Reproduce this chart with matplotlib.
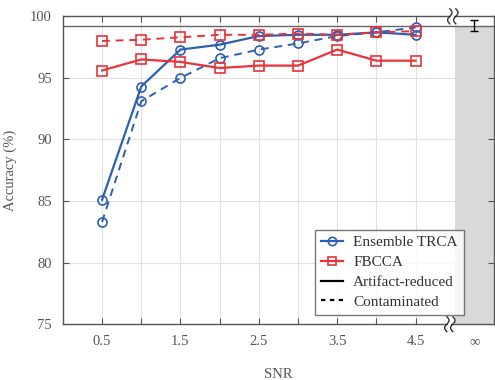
import numpy as np
import matplotlib
matplotlib.use("Agg")
import matplotlib.pyplot as plt
from matplotlib.lines import Line2D

plt.rcParams['font.family'] = ['Liberation Serif', 'DejaVu Serif']

snr = [0.5, 1.0, 1.5, 2.0, 2.5, 3.0, 3.5, 4.0, 4.5]
trca_reduced = [85.1, 94.3, 97.3, 97.7, 98.4, 98.5, 98.5, 98.7, 98.5]
trca_contam = [83.3, 93.1, 95.0, 96.6, 97.3, 97.8, 98.4, 98.7, 99.1]
fbcca_reduced = [95.6, 96.5, 96.3, 95.8, 96.0, 96.0, 97.3, 96.4, 96.4]
fbcca_contam = [98.0, 98.1, 98.3, 98.5, 98.5, 98.6, 98.5, 98.7, 98.8]
inf_mean = 99.25
inf_err = 0.45
xtick_labels = ['0.5', '', '1.5', '', '2.5', '', '3.5', '', '4.5']
ytick_vals = [75, 80, 85, 90, 95, 100]

blue = '#2e5fb0'
red = '#e8333a'
tc = '#555555'
sc = '#555555'

fig = plt.figure(figsize=(4.95, 3.8), dpi=100)
ax = fig.add_axes([0.127, 0.147, 0.871, 0.81])
ax.set_xlim(0, 5.5)
ax.set_ylim(75, 100)

# grid
for gx in np.arange(0.5, 4.51, 0.5):
    ax.axvline(gx, color='#e0e0e0', lw=0.8, zorder=0)
for gy in [80, 85, 90, 95]:
    ax.axhline(gy, color='#e0e0e0', lw=0.8, zorder=0)

# gray infinite region
ax.axvspan(5.0, 5.5, ymin=0, ymax=(inf_mean - 75) / 25, color='#d9d9d9', zorder=1, lw=0)
ax.axhline(inf_mean, color='#666666', lw=1.0, zorder=2)
ax.errorbar([5.25], [inf_mean], yerr=[inf_err], color='black', capsize=3, lw=1, capthick=1, zorder=3)

dash = (0, (4, 3))
mk = dict(markersize=6.5, markerfacecolor='none', markeredgewidth=1.2)
ax.plot(snr, trca_contam, color=blue, ls=dash, lw=1.4, marker='o', markeredgecolor=blue, zorder=4, **mk)
ax.plot(snr, trca_reduced, color=blue, ls='-', lw=1.6, marker='o', markeredgecolor=blue, zorder=4, **mk)
ax.plot(snr, fbcca_contam, color=red, ls=dash, lw=1.4, marker='s', markeredgecolor=red, zorder=5, **mk)
ax.plot(snr, fbcca_reduced, color=red, ls='-', lw=1.6, marker='s', markeredgecolor=red, zorder=5, **mk)

ax.set_xticks(np.arange(0.5, 4.51, 0.5))
ax.set_xticklabels(xtick_labels)
ax.set_yticks(ytick_vals)
ax.set_yticklabels([str(v) for v in ytick_vals])
ax.tick_params(direction='in', top=True, right=True, length=4, width=0.8, colors=sc,
               labelcolor=tc, labelsize=10.5, pad=8)
ax.text(5.25, -0.035, '∞', transform=ax.get_xaxis_transform(), ha='center', va='top',
        fontsize=10.5, color=tc)
for s in ax.spines.values():
    s.set_color(sc)
    s.set_linewidth(1.0)

ax.set_xlabel('SNR', fontsize=10.5, color=tc, labelpad=14)
ax.set_ylabel('Accuracy (%)', fontsize=10.5, color=tc, labelpad=9)

# break marks
W, H = 431.0, 307.8
def squiggle(xc_frac, yc_frac):
    t = np.linspace(-1, 1, 40)
    for off in (-3.0, 3.0):
        xs = xc_frac + (off + 2.2 * np.sin(np.pi * t)) / W
        ys = yc_frac + (7.5 * t) / H
        ax.plot(xs, ys, transform=ax.transAxes, color='#333333', lw=1.0, clip_on=False, zorder=10)
    ax.fill_between([xc_frac - 1.5 / W, xc_frac + 1.5 / W], yc_frac - 3 / H, yc_frac + 3 / H,
                    transform=ax.transAxes, color='white', clip_on=False, zorder=9, lw=0)
squiggle(5.0 / 5.5 - 2 / W, 1.0)
squiggle(5.0 / 5.5 - 5 / W, 0.0)

handles = [
    Line2D([], [], color=blue, marker='o', markerfacecolor='none', markeredgewidth=1.2, markersize=6, lw=1.6),
    Line2D([], [], color=red, marker='s', markerfacecolor='none', markeredgewidth=1.2, markersize=6, lw=1.6),
    Line2D([], [], color='black', lw=1.6),
    Line2D([], [], color='black', lw=1.6, ls=(0, (2, 2))),
]
labels = ['Ensemble TRCA', 'FBCCA', 'Artifact-reduced', 'Contaminated']
leg = ax.legend(handles, labels, loc='lower left', bbox_to_anchor=(0.585, 0.03), fontsize=11,
                frameon=True, fancybox=False, edgecolor='#555555', handlelength=1.4,
                borderpad=0.4, labelspacing=0.4, handletextpad=0.7, borderaxespad=0)
leg.get_frame().set_linewidth(1.0)
leg.set_zorder(20)
for t in leg.get_texts():
    t.set_color('#333333')

fig.savefig('out.png', dpi=100)
